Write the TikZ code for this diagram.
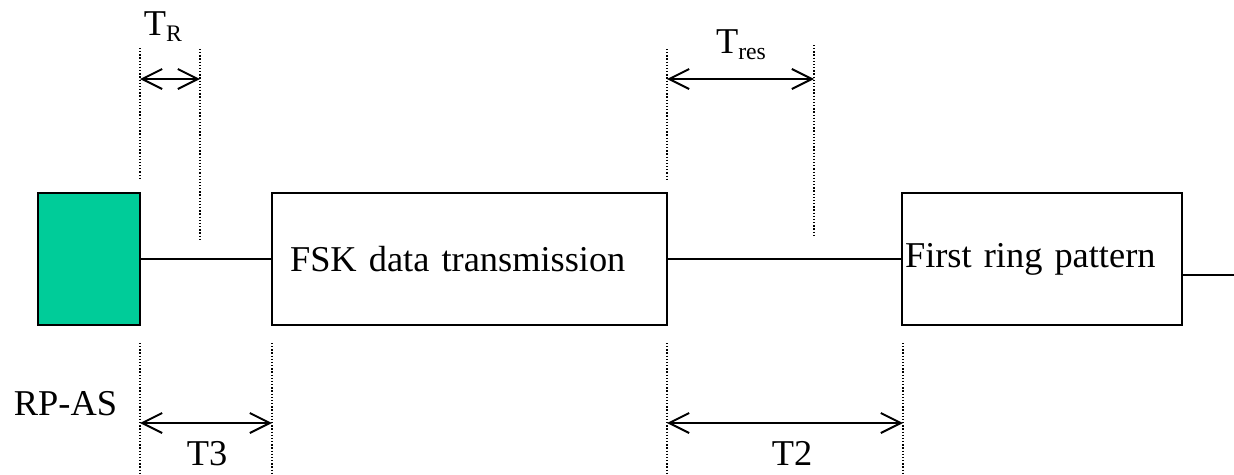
\documentclass[tikz,border=0pt]{standalone}
\usepackage{fontspec}
\setmainfont{Liberation Serif}
\usetikzlibrary{arrows.meta}
\definecolor{rpgreen}{RGB}{0,204,153}
\tikzset{
every picture/.style={
line width=1.1pt
}}
\tikzset{
  txt/.style={font=\fontsize{20.7}{24}\selectfont, inner sep=0pt},
  block/.style={draw, minimum height=2.64cm, inner ysep=0pt, align=left, font=\fontsize{20.7}{24}\selectfont},
  guide/.style={line width=0.75pt, dash pattern=on 0.75pt off 1.05pt},
  span/.style={{Straight Barb[length=0.4cm,width=0.4cm]}-{Straight Barb[length=0.4cm,width=0.4cm]}}
}
\newcommand{\lowtext}[1]{\raisebox{-0.17em}{\fontsize{13.5}{15}\selectfont #1}}

\begin{document}
\begin{tikzpicture}[x=0.02cm, y=-0.02cm]
\useasboundingbox (0,0) rectangle (1234,474);

% blocks on the time line
\node[block, fill=rpgreen, minimum width=2.04cm, inner xsep=0pt] (rp) at (89,259) {};
\node[block, minimum width=7.9cm, inner xsep=0.36cm, text width=7.18cm] (fsk) at (469.5,259) {FSK data transmission};
\node[block, minimum width=5.6cm, inner xsep=0.06cm, text width=5.48cm] (ring) at (1042,259) {First ring pattern};
\coordinate (tail) at (1234,275);

\draw (rp.east) -- (fsk.west);
\draw (fsk.east) -- (ring.west);
\draw (ring.east |- tail) -- (tail);

% dotted guides: x/top/bottom
\foreach \x/\ya/\yb in {140/48/180, 200/49/240, 667/49/180, 814/45/235, 140/343/474, 272/343/474, 667/343/474, 903/343/474}{
  \draw[guide] (\x,\ya) -- (\x,\yb);
}

% interval arrows
\coordinate (trL) at (140,79);  \coordinate (trR) at (200,79);
\coordinate (resL) at (667,79); \coordinate (resR) at (814,79);
\coordinate (t3L) at (140,423); \coordinate (t3R) at (272,423);
\coordinate (t2L) at (667,423); \coordinate (t2R) at (903,423);

\draw[span] (trL) -- (trR);
\draw[span] (resL) -- (resR);
\draw[span] (t3L) -- (t3R);
\draw[span] (t2L) -- (t2R);

\node[txt, anchor=base] (trlbl) at (163,35) {T\lowtext{R}};
\node[txt, anchor=base] (reslbl) at (741,53) {T\lowtext{res}};
\node[txt, anchor=base] (t3lbl) at (207,465) {T3};
\node[txt, anchor=base] (t2lbl) at (792,465) {T2};
\node[txt, anchor=base west] (rplbl) at (13,415) {RP-AS};
\end{tikzpicture}
\end{document}
